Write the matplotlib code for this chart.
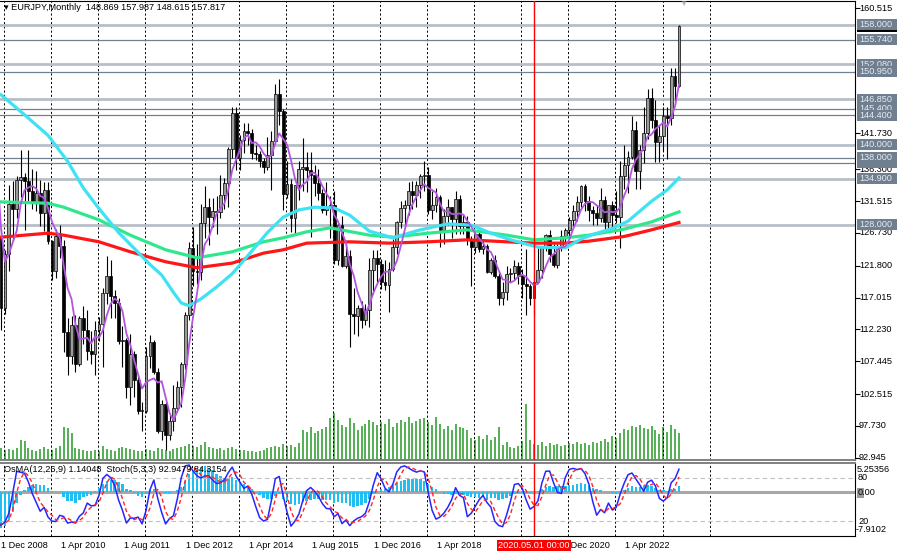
import numpy as np
import pandas as pd
import matplotlib
matplotlib.use('Agg')
import matplotlib.pyplot as plt
from matplotlib.patches import Rectangle
from matplotlib.transforms import blended_transform_factory as blend

plt.rcParams['font.family'] = ['Liberation Sans', 'DejaVu Sans']
FS = 6.6
W, H = 900, 554

# EURJPY monthly bars, Jan 2008 .. Jun 2023
# (2008 only feeds the indicators, it sits left of the visible window)
first_open = 163.0
closes = [
    157.9, 157.8, 157.6, 162.3, 164.1, 167.1, 168.3, 159.6, 149.4, 125.3, 121.3, 126.1,
    115.5, 123.6, 131.1, 130.3, 134.7, 135.1, 134.6, 133.1, 131.4, 132.7, 129.7, 133.2,
    125.5, 121.0, 126.2, 124.7, 111.9, 108.3, 112.9, 107.0, 113.9, 112.1, 109.0, 108.6,
    112.2, 113.0, 117.7, 120.3, 117.2, 116.2, 110.5, 110.7, 103.5, 108.6, 104.6, 100.0,
    100.0, 108.2, 110.3, 105.8, 96.9, 101.0, 96.3, 98.4, 100.4, 103.5, 107.1, 114.4,
    124.4, 121.0, 120.8, 128.3, 130.7, 129.1, 130.0, 129.9, 132.5, 134.2, 139.4, 144.8,
    138.0, 140.7, 142.0, 141.8, 138.7, 138.6, 137.6, 136.7, 138.5, 140.6, 147.6, 145.1,
    132.6, 134.1, 129.0, 133.9, 136.4, 136.6, 136.2, 135.5, 134.2, 132.8, 130.2, 130.6,
    131.0, 122.6, 128.0, 121.7, 123.3, 114.5, 114.2, 115.4, 113.7, 115.2, 121.2, 123.0,
    122.1, 119.3, 118.9, 121.3, 124.6, 128.4, 130.5, 130.9, 133.0, 132.5, 134.0, 135.3,
    135.5, 130.2, 130.9, 132.1, 127.2, 129.3, 130.6, 128.8, 131.8, 127.8, 128.4, 125.8,
    124.6, 126.6, 124.3, 124.8, 120.9, 122.7, 120.3, 116.9, 117.9, 120.5, 120.7, 121.8,
    120.2, 119.1, 118.8, 117.0, 119.4, 121.1, 124.6, 126.4, 123.6, 121.9, 124.6, 126.2,
    127.2, 128.7, 130.0, 131.4, 133.8, 131.6, 130.2, 129.8, 129.0, 131.7, 128.4, 130.9,
    129.4, 129.1, 135.3, 136.9, 138.2, 142.2, 136.1, 139.2, 141.7, 147.0, 143.7, 140.4,
    141.3, 144.3, 144.0, 150.4, 148.869, 157.817,
]
highs = [
    163.0, 160.5, 158.5, 163.8, 165.0, 168.5, 169.9, 169.0, 161.2, 150.5, 128.5, 133.5,
    127.3, 124.2, 134.0, 134.5, 135.3, 139.2, 135.8, 139.2, 136.3, 136.0, 134.7, 134.4,
    134.4, 125.7, 127.3, 127.9, 125.7, 113.9, 114.2, 114.4, 114.2, 115.8, 115.2, 112.0,
    113.5, 114.1, 118.4, 123.3, 122.6, 118.2, 117.0, 112.7, 111.0, 111.6, 109.0, 105.5,
    101.3, 109.6, 111.4, 110.6, 106.4, 101.6, 101.3, 99.3, 103.9, 104.5, 107.3, 114.9,
    125.4, 127.7, 125.0, 131.1, 133.8, 132.0, 132.0, 132.3, 135.5, 135.0, 139.6, 145.7,
    145.7, 141.5, 143.2, 143.2, 142.3, 140.0, 139.0, 138.0, 141.2, 142.0, 149.1, 149.8,
    145.3, 137.6, 134.8, 134.0, 137.5, 141.0, 138.9, 138.9, 137.0, 136.3, 133.3, 134.4,
    132.3, 133.1, 128.3, 129.3, 125.0, 124.2, 118.5, 115.9, 116.5, 116.0, 122.9, 124.1,
    124.1, 122.8, 122.6, 122.3, 125.8, 128.5, 131.5, 131.7, 134.4, 134.5, 134.5, 135.6,
    137.5, 136.7, 133.0, 133.5, 132.4, 130.4, 131.9, 130.7, 133.1, 132.5, 129.6, 129.3,
    126.2, 126.8, 127.5, 125.8, 125.0, 123.0, 123.4, 121.0, 119.3, 121.7, 121.5, 122.6,
    122.3, 121.3, 124.3, 119.1, 121.0, 124.4, 124.8, 126.6, 127.1, 125.1, 125.1, 127.1,
    127.5, 129.2, 130.9, 132.3, 134.0, 134.1, 132.3, 130.8, 131.0, 133.5, 132.3, 131.0,
    131.6, 133.1, 137.5, 140.0, 139.0, 144.3, 143.5, 139.9, 145.6, 148.4, 148.5, 146.7,
    142.9, 145.6, 145.7, 151.6, 151.6, 157.987,
]
lows = [
    152.6, 155.5, 149.8, 155.9, 157.7, 161.0, 164.5, 156.1, 147.0, 113.6, 115.8, 116.0,
    112.1, 114.5, 121.0, 125.5, 129.0, 132.2, 127.2, 131.5, 130.4, 130.0, 127.8, 127.0,
    125.0, 119.6, 120.0, 122.9, 108.8, 105.4, 107.0, 105.9, 106.8, 110.1, 107.6, 107.0,
    105.4, 110.5, 106.6, 116.0, 113.9, 113.9, 110.1, 106.6, 101.9, 100.8, 102.0, 99.5,
    97.0, 99.6, 106.5, 105.6, 96.6, 95.6, 94.1, 95.6, 96.9, 99.8, 100.6, 106.3,
    113.7, 118.7, 119.1, 119.6, 126.0, 124.9, 127.6, 126.6, 129.0, 130.3, 130.7, 138.0,
    136.2, 136.2, 138.7, 140.0, 137.8, 137.7, 136.7, 135.7, 136.2, 133.2, 140.6, 143.0,
    130.2, 132.0, 126.9, 126.5, 131.7, 133.0, 132.9, 126.1, 132.3, 131.7, 129.7, 129.5,
    126.0, 122.1, 121.9, 121.6, 121.5, 109.6, 111.6, 111.3, 112.4, 112.9, 112.6, 117.5,
    119.3, 118.3, 118.1, 114.8, 121.0, 123.6, 127.5, 127.6, 129.5, 130.3, 130.6, 132.0,
    133.1, 129.6, 128.9, 129.9, 124.6, 125.0, 128.0, 125.9, 126.6, 126.6, 126.6, 124.9,
    118.7, 123.7, 123.9, 123.5, 120.7, 120.6, 119.9, 115.9, 115.9, 116.6, 119.3, 119.6,
    119.0, 117.0, 114.4, 115.9, 114.4, 119.3, 119.9, 124.0, 122.4, 121.6, 121.5, 124.0,
    125.1, 126.3, 127.8, 128.6, 130.6, 130.0, 128.6, 128.0, 127.9, 128.4, 127.4, 127.5,
    127.4, 128.2, 124.4, 133.3, 132.7, 137.9, 133.4, 133.4, 137.3, 140.9, 142.5, 137.4,
    137.4, 139.1, 137.9, 143.0, 146.1, 148.615,
]

# tick volume, Jan 2009 .. Jun 2023
volumes = [
    12, 10, 11, 10, 12, 20, 19, 12, 10, 9, 11, 13,
    11, 10, 12, 14, 33, 32, 27, 12, 11, 10, 9, 9,
    10, 9, 14, 11, 10, 9, 12, 13, 12, 11, 10, 9,
    9, 11, 10, 9, 12, 11, 10, 9, 11, 12, 13, 14,
    16, 14, 13, 15, 18, 13, 12, 11, 12, 10, 12, 13,
    11, 10, 10, 9, 9, 8, 9, 10, 12, 13, 14, 13,
    16, 14, 15, 13, 17, 30, 28, 33, 27, 29, 31, 33,
    42, 47, 40, 35, 33, 42, 37, 30, 34, 36, 40, 38,
    35, 38, 36, 41, 33, 37, 40, 38, 43, 37, 39, 41,
    42, 38, 35, 43, 36, 31, 34, 30, 36, 33, 32, 30,
    22, 20, 24, 21, 25, 20, 23, 33, 15, 18, 13, 12,
    14, 19, 56, 20, 16, 15, 18, 14, 17, 15, 16, 14,
    15, 17, 16, 18, 16, 17, 15, 18, 17, 19, 21, 18,
    24, 22, 27, 31, 30, 34, 33, 35, 32, 31, 34, 30,
    26, 33, 28, 35, 31, 27,
]

# long moving averages
cyan_months = ['2009-01', '2009-07', '2010-01', '2010-06', '2010-10', '2011-02', '2011-07',
               '2011-11', '2012-03', '2012-06', '2012-09', '2012-11', '2013-01', '2013-04',
               '2013-08', '2013-12', '2014-05', '2014-09', '2015-01', '2015-05', '2015-09',
               '2016-02', '2016-06', '2016-11', '2017-05', '2017-12', '2018-07', '2019-01',
               '2019-06', '2019-11', '2020-06', '2021-01', '2021-05', '2021-08', '2022-01',
               '2022-05', '2022-08', '2022-11', '2023-03', '2023-06']
cyan_values = [147.5, 144.5, 141.4, 137.5, 133.5, 130.4, 126.8, 124.4, 122.0, 120.4, 117.8,
               116.2, 115.8, 116.8, 118.6, 120.6, 124.0, 126.8, 129.1, 130.2, 130.6, 130.5,
               129.4, 127.0, 126.0, 127.2, 128.1, 127.9, 126.7, 125.7, 124.6, 124.5, 125.8,
               126.5, 127.4, 128.5, 130.0, 131.5, 133.2, 135.0]
green_months = ['2009-01', '2010-01', '2010-05', '2011-02', '2011-10', '2012-07', '2013-03',
                '2013-12', '2014-08', '2015-01', '2015-07', '2016-01', '2016-11', '2017-05',
                '2018-02', '2018-12', '2019-10', '2020-05', '2021-01', '2021-07', '2022-04',
                '2022-11', '2023-06']
green_values = [131.4, 131.2, 130.6, 128.7, 126.4, 124.2, 123.0, 123.9, 125.4, 126.0, 126.9,
                127.5, 126.4, 126.1, 126.7, 127.2, 126.4, 125.7, 126.0, 126.4, 127.3, 128.4,
                129.9]
red_months = ['2009-01', '2010-01', '2010-05', '2011-02', '2011-10', '2012-07', '2013-03',
              '2013-12', '2014-08', '2015-01', '2015-07', '2016-06', '2017-04', '2018-02',
              '2018-12', '2019-10', '2020-05', '2021-01', '2021-07', '2022-04', '2022-11',
              '2023-06']
red_values = [126.1, 126.7, 126.4, 125.4, 123.9, 122.4, 121.5, 122.2, 123.7, 124.2, 125.2,
              125.4, 125.2, 125.4, 125.7, 125.4, 125.2, 125.2, 125.5, 126.2, 127.2, 128.3]

# horizontal levels and the right price scale
levels_light = [158.000, 152.080, 146.850, 140.000, 134.900, 128.000]
levels_dark = [155.740, 150.950, 145.400, 144.400, 138.000, 137.300]
label_order = [155.740, 152.080, 150.950, 146.850, 145.400, 144.400, 140.000,
               138.000, 134.900, 128.000]
hidden_labels = [137.300]   # only a sliver of its box shows
price_ticks = [160.515, 141.730, 136.300, 131.515, 126.730, 121.800, 117.015,
               112.230, 107.445, 102.515, 97.730, 92.945]

# "1 Aug 2019" sits fully under the red time marker, so it is left out
time_labels = ['1 Dec 2008', '1 Apr 2010', '1 Aug 2011', '1 Dec 2012', '1 Apr 2014',
               '1 Aug 2015', '1 Dec 2016', '1 Apr 2018', '1 Dec 2020', '1 Apr 2022']
time_label_months = ['2008-12', '2010-04', '2011-08', '2012-12', '2014-04', '2015-08',
                     '2016-12', '2018-04', '2020-12', '2022-04']
marker_month = '2020-05'


def month_index(s):
    y, m = s.split('-')
    return (int(y) - 2009) * 12 + int(m) - 1


# ---- indicators ----
c = pd.Series(closes)
o = c.shift(1).fillna(first_open)
hi = np.maximum(pd.Series(highs), np.maximum(o, c))
lo = np.minimum(pd.Series(lows), np.minimum(o, c))
x = np.arange(len(c)) - 12  # Jan 2009 = 0

sma5 = c.rolling(5).mean()
macd = c.ewm(span=12, adjust=False).mean() - c.ewm(span=26, adjust=False).mean()
osma = macd - macd.rolling(9, min_periods=1).mean()
ll = lo.rolling(5, min_periods=1).min()
hh = hi.rolling(5, min_periods=1).max()
stoch_k = 100 * (c - ll).rolling(3, min_periods=1).sum() / (hh - ll).rolling(3, min_periods=1).sum()
stoch_d = stoch_k.rolling(3, min_periods=1).mean()

# ---- layout (pixel based, MT4 look) ----
fig = plt.figure(figsize=(W / 100, H / 100), dpi=100)
fig.patch.set_facecolor('white')


def frect(x0, y0, x1, y1):
    return [x0 / W, 1 - y1 / H, (x1 - x0) / W, (y1 - y0) / H]


AX_R = 855
xlim = (-1 / 3.919, (AX_R - 1) / 3.919)
ytop, ybot = 161.6, 92.6

ax_vol = fig.add_axes(frect(0, 1, AX_R, 460))
ax = fig.add_axes(frect(0, 1, AX_R, 460))
ax_sub = fig.add_axes(frect(0, 463, AX_R, 536))
ax_st = ax_sub.twinx()
ax_vol.set_zorder(0)
ax.set_zorder(1)
ax.patch.set_visible(False)

for a in (ax_vol, ax, ax_sub, ax_st):
    a.set_xlim(*xlim)
    a.set_xticks([])
    for s in a.spines.values():
        s.set_visible(False)

ax_vol.set_ylim(0, 460)
ax_vol.set_yticks([])
ax.set_ylim(ybot, ytop)
ax_sub.set_ylim(-7.9102, 5.25356)
ax_st.set_ylim(0, 100)
ax_sub.set_yticks([])
ax_st.set_yticks([])

ax.spines['top'].set_visible(True)
ax.spines['right'].set_visible(True)
ax.spines['bottom'].set_visible(True)
ax.spines['bottom'].set_color('#808080')
ax.spines['bottom'].set_linewidth(1.4)
ax_sub.spines['top'].set_visible(True)
ax_sub.spines['top'].set_color('#808080')
ax_sub.spines['top'].set_linewidth(1.4)
ax_sub.spines['right'].set_visible(True)
ax_sub.spines['bottom'].set_visible(True)

ax.yaxis.tick_right()
ax.set_yticks(price_ticks)
ax.set_yticklabels([])
ax.tick_params(axis='y', length=3.5, width=0.8, color='black')

# yearly dashed grid
for yr in range(2009, 2025):
    gx = (yr - 2009) * 12 + 0.8
    for a in (ax, ax_sub):
        a.axvline(gx, color='black', lw=0.7, ls=(0, (2.2, 2.2)), zorder=0.5)

# volumes
vx = x[12:]
ax_vol.vlines(vx, 0, volumes, color='#46a846', lw=1.3)

# levels
for p in levels_light:
    ax.axhline(p, color='#b7bec6', lw=2.0, zorder=1)
for p in levels_dark:
    ax.axhline(p, color='#71808f', lw=0.9, zorder=1)

# candles
up = (c >= o).values
body = np.maximum((c - o).abs().values, 0.12)
ax.vlines(x, lo, hi, color='black', lw=0.8, zorder=3)
ax.bar(x[up], body[up], bottom=o.values[up], width=0.72, color='#9c9c9c',
       edgecolor='black', linewidth=0.5, zorder=3.1)
ax.bar(x[~up], body[~up], bottom=c.values[~up], width=0.72, color='black',
       edgecolor='black', linewidth=0.5, zorder=3.1)

# moving averages
ax.plot([month_index(m) for m in red_months], red_values, color='#ff1616', lw=2.3, zorder=4)
ax.plot([month_index(m) for m in green_months], green_values, color='#2fe88e', lw=2.3, zorder=4.1)
ax.plot([month_index(m) for m in cyan_months], cyan_values, color='#3fe2f2', lw=2.3, zorder=4.2)
ax.plot(x, sma5, color='#b455df', lw=1.3, zorder=4.5)

mx = month_index(marker_month)
ax.axvline(mx, color='red', lw=1.0, zorder=6)

# right price scale
trans = blend(ax.transAxes, ax.transData)
ppu = 459 / (ytop - ybot)
for p in price_ticks:
    ax.text(859 / AX_R, p, f'{p:.3f}', transform=trans, fontsize=FS, color='black',
            va='center', ha='left', clip_on=False, zorder=6)


def price_box(p, txt, fc, tc, z):
    hh_ = 11 / ppu
    ax.add_patch(Rectangle((857 / AX_R, p - hh_ / 2), 40 / AX_R, hh_, transform=trans,
                           facecolor=fc, edgecolor='none', clip_on=False, zorder=z))
    if txt:
        ax.text(859 / AX_R, p, txt, transform=trans, fontsize=FS, color=tc,
                va='center', ha='left', clip_on=False, zorder=z + 0.005)


# current price box lies almost entirely under the 158.000 box
price_box(closes[-1], None, 'black', 'white', 7.0)
price_box(158.0, '158.000', '#6f7f90', '#e6ecf2', 7.01)
for p in hidden_labels:
    price_box(p, None, '#6f7f90', '#e6ecf2', 7.015)
for k_, p in enumerate(label_order):
    price_box(p, f'{p:.3f}', '#6f7f90', '#e6ecf2', 7.02 + k_ * 0.01)

# header
fig.text(4 / W, 1 - 8 / H, '▾ EURJPY,Monthly  148.869 157.987 148.615 157.817',
         fontsize=FS, color='black', va='center', ha='left')
fig.text(683 / W, 1 - 4 / H, '▼', fontsize=6, color='#b8b8b8', va='center', ha='center')

# ---- sub window: OsMA + Stochastic ----
ax_sub.axhline(0, color='#a8a8a8', lw=2.2, zorder=1.5)
ax_sub.bar(x, osma, width=0.62, color='#1fbff2', zorder=2)
ax_st.axhline(80, color='#c0c0c0', lw=0.8, ls=(0, (4, 3)))
ax_st.axhline(20, color='#c0c0c0', lw=0.8, ls=(0, (4, 3)))
ax_st.plot(x, stoch_k, color='#2626ff', lw=1.1, zorder=3)
ax_st.plot(x, stoch_d, color='#ff2626', lw=1.0, ls=(0, (3, 2)), zorder=3)
ax_st.axvline(mx, color='red', lw=1.0, zorder=4)

fig.text(4 / W, 1 - 470 / H, 'OsMA(12,26,9) 1.14048  Stoch(5,3,3) 92.9479 84.3154',
         fontsize=FS, color='black', va='center', ha='left')
for txt, py, px in [('5.25356', 470, 857), ('80', 478, 858), ('20', 521.5, 858),
                    ('-7.9102', 530, 856)]:
    fig.text(px / W, 1 - py / H, txt, fontsize=FS, color='black', va='center', ha='left')
fig.add_artist(Rectangle((857 / W, 1 - 497.5 / H), 7 / W, 10 / H, transform=fig.transFigure,
                         facecolor='#9a9a9a', edgecolor='none'))
fig.text(858 / W, 1 - 492.7 / H, '0.00', fontsize=FS, color='black', va='center', ha='left')

# time axis
tt = blend(ax_sub.transData, ax_sub.transAxes)
for lbl, m in zip(time_labels, time_label_months):
    ax_sub.text(max(month_index(m) + 0.3, 0.0), -0.135, lbl, transform=tt, fontsize=FS,
                color='black', va='center', ha='left', clip_on=False)
ax_sub.text(mx, -0.135, '2020.05.01 00:00', transform=tt, fontsize=FS, color='white',
            va='center', ha='center', clip_on=False, zorder=10,
            bbox=dict(boxstyle='square,pad=0.12', facecolor='#ff0000', edgecolor='none'))

fig.savefig('out.png', dpi=100)
